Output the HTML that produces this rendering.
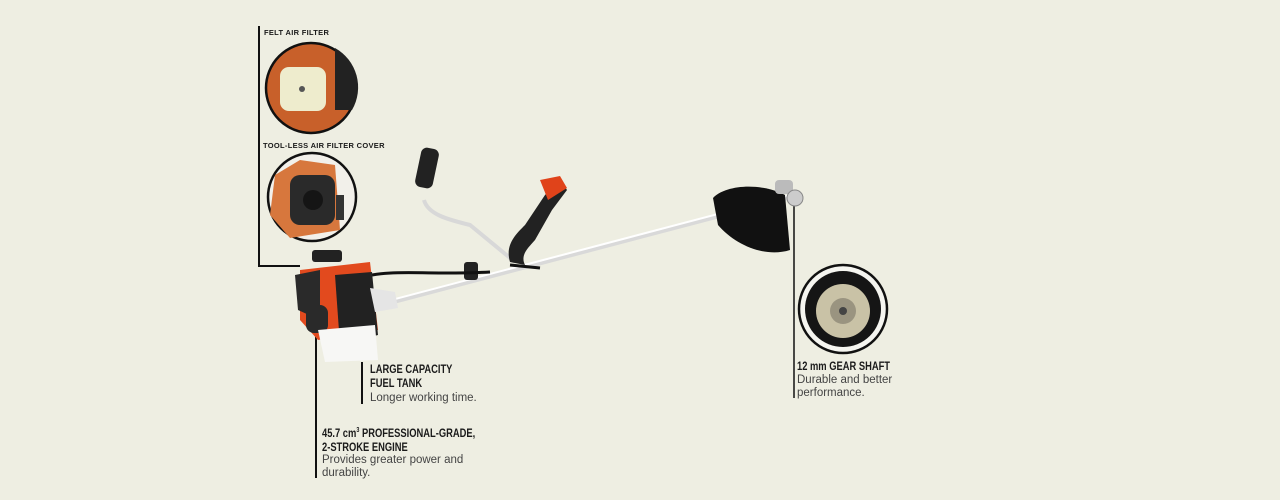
<!DOCTYPE html>
<html><head><meta charset="utf-8"><style>
html,body{margin:0;padding:0;background:#eeeee2;}
svg{display:block}
text{font-family:"Liberation Sans",sans-serif;}
.h{font-weight:bold;font-size:12px;fill:#1a1a1a}
.b{font-size:11.5px;fill:#444}
.s{font-weight:bold;font-size:7.5px;fill:#1a1a1a;letter-spacing:0.3px}
</style></head><body>
<svg width="1280" height="500" viewBox="0 0 1280 500" xmlns="http://www.w3.org/2000/svg">
<rect width="1280" height="500" fill="#eeeee2"/>
<!-- connector lines -->
<polyline points="259,26 259,266 300,266" fill="none" stroke="#111" stroke-width="2"/>
<line x1="316" y1="330" x2="316" y2="478" stroke="#111" stroke-width="2"/>
<line x1="362" y1="362" x2="362" y2="404" stroke="#111" stroke-width="2"/>
<line x1="794" y1="205" x2="794" y2="398" stroke="#111" stroke-width="1.5"/>

<!-- labels -->
<text class="s" x="264" y="35">FELT AIR FILTER</text>
<text class="s" x="263" y="148">TOOL-LESS AIR FILTER COVER</text>

<!-- circle 1 -->
<circle cx="311" cy="88" r="45" fill="#c8602a" stroke="#111" stroke-width="2.5"/>
<path d="M335,48 A45,45 0 0 1 352,110 L335,110 Z" fill="#222"/>
<rect x="280" y="67" width="46" height="44" rx="9" fill="#eeeccd"/>
<circle cx="302" cy="89" r="3" fill="#555"/>
<!-- circle 2 -->
<circle cx="312" cy="197" r="44" fill="#f2f0ea" stroke="#111" stroke-width="2.5"/>
<path d="M275,175 L300,160 L335,165 L340,230 L290,238 L270,215 Z" fill="#d7773d"/>
<rect x="290" y="175" width="45" height="50" rx="10" fill="#2a2a2a"/>
<circle cx="313" cy="200" r="10" fill="#151515"/>
<rect x="336" y="195" width="8" height="25" fill="#333"/>

<!-- trimmer shaft -->
<line x1="380" y1="305" x2="790" y2="197" stroke="#d9d9d9" stroke-width="5"/>
<line x1="380" y1="303" x2="790" y2="195" stroke="#fff" stroke-width="2"/>
<!-- handlebar -->
<path d="M424,200 C428,215 450,220 470,225 L515,262" fill="none" stroke="#d8d8d8" stroke-width="4"/>
<rect x="418" y="148" width="18" height="40" rx="6" fill="#222" transform="rotate(12 427 168)"/>
<path d="M510,262 C505,245 515,235 525,225 L545,195 L560,180 L567,190 L552,210 L535,240 C528,248 520,255 525,265 Z" fill="#222"/>
<path d="M540,180 L560,176 L567,188 L548,200 Z" fill="#e0431a"/>
<path d="M510,265 L540,268" stroke="#111" stroke-width="3"/>
<rect x="464" y="262" width="14" height="18" rx="3" fill="#222"/>
<path d="M372,275 C400,270 440,275 490,272" fill="none" stroke="#111" stroke-width="3"/>
<!-- engine -->
<rect x="312" y="250" width="30" height="12" rx="3" fill="#222"/>
<path d="M300,270 L370,262 L378,330 L318,340 L300,320 Z" fill="#e24a1e"/>
<path d="M335,275 L372,272 L378,335 L340,345 Z" fill="#222"/>
<path d="M295,275 L320,270 L320,320 L298,310 Z" fill="#2a2a2a"/>
<rect x="306" y="305" width="22" height="28" rx="8" fill="#2a2a2a"/>
<path d="M318,330 L375,325 L378,360 L325,362 Z" fill="#f7f7f5"/>
<path d="M370,288 L395,292 L398,308 L375,312 Z" fill="#e5e5e5"/>
<!-- head / guard -->
<path d="M713,198 C725,185 760,182 785,195 L790,250 C765,258 735,245 718,225 Z" fill="#111"/>
<rect x="775" y="180" width="18" height="14" rx="4" fill="#bbb"/>
<circle cx="795" cy="198" r="8" fill="#ccc" stroke="#888"/>
<!-- circle 3 -->
<circle cx="843" cy="309" r="44" fill="#f5f5f0" stroke="#111" stroke-width="2.5"/>
<circle cx="843" cy="309" r="38" fill="#151515"/>
<circle cx="843" cy="311" r="27" fill="#c9c2a6"/>
<circle cx="843" cy="311" r="13" fill="#9a9480"/>
<circle cx="843" cy="311" r="4" fill="#444"/>

<!-- text blocks -->
<g transform="translate(370,0) scale(0.78,1)">
<text class="h" x="0" y="373">LARGE CAPACITY</text>
<text class="h" x="0" y="387">FUEL TANK</text>
</g>
<text class="b" x="370" y="401">Longer working time.</text>

<g transform="translate(322,0) scale(0.78,1)">
<text class="h" x="0" y="437">45.7 cm<tspan font-size="7" dy="-5">3</tspan><tspan dy="5"> PROFESSIONAL-GRADE,</tspan></text>
<text class="h" x="0" y="451">2-STROKE ENGINE</text>
</g>
<text class="b" x="322" y="463">Provides greater power and</text>
<text class="b" x="322" y="476">durability.</text>

<g transform="translate(797,0) scale(0.78,1)">
<text class="h" x="0" y="370">12 mm GEAR SHAFT</text>
</g>
<text class="b" x="797" y="383">Durable and better</text>
<text class="b" x="797" y="396">performance.</text>
</svg>
</body></html>
